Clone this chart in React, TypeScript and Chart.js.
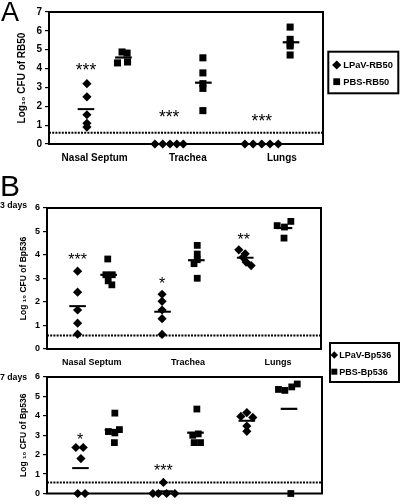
import React, { useEffect, useRef } from 'react';
import { Chart, registerables } from 'chart.js';

Chart.register(...registerables);

const FONT = "'Liberation Sans', Arial, Helvetica, sans-serif";

// x axis: six slots (LPaV / PBS for each organ), 0..6
const X_MIN = 0;
const X_MAX = 6;
const CATEGORIES = ['Nasal Septum', 'Trachea', 'Lungs'];

// ---------- Panel A : RB50 ----------
const A_LEGEND = ['LPaV-RB50', 'PBS-RB50'];
const A_Y_TITLE = 'Log\u2081\u2080 CFU of RB50';
const A_Y_MAX = 7;
const A_LOD = 0.6;
const A_CAT_X = [1.0, 3.04, 5.1];
const A_LPAV_Y = [[3.2, 2.5, 1.55, 1.1, 0.9], [0, 0, 0, 0, 0], [0, 0, 0, 0, 0]];
const A_LPAV_X = [[0.83, 0.83, 0.83, 0.83, 0.83], [2.32, 2.49, 2.65, 2.8, 2.94], [4.29, 4.47, 4.66, 4.84, 5.02]];
const A_PBS_Y = [[4.88, 4.82, 4.3, 4.35], [4.57, 3.77, 3.2, 2.95, 1.77], [6.2, 5.55, 5.3, 5.2, 4.72]];
const A_PBS_X = [[1.6, 1.71, 1.5, 1.72], [3.37, 3.37, 3.37, 3.37, 3.37], [5.28, 5.28, 5.28, 5.28, 5.28]];
const A_LPAV_MEAN_X = [0.81, 2.63, 4.66];
const A_PBS_MEAN_X = [1.63, 3.38, 5.3];
const A_STAR_TEXT = ['***', '***', '***'];
const A_STAR_X = [0.81, 2.63, 4.66];
const A_STAR_Y = [4.14, 1.65, 1.44];

// ---------- Panel B : Bp536 ----------
const B_LEGEND = ['LPaV-Bp536', 'PBS-Bp536'];
const B_Y_TITLE = 'Log \u2081\u2080 CFU of Bp536';
const B_Y_MAX = 6;
const B_LOD = 0.57;

// 3 days
const B3_CAT_X = [0.98, 3.09, 5.06];
const B3_LPAV_Y = [[3.31, 2.42, 1.66, 1.1, 0.63], [2.33, 2.03, 1.66, 1.29, 0.62], [4.22, 4.05, 3.9, 3.7, 3.55]];
const B3_LPAV_X = [[0.67, 0.67, 0.67, 0.67, 0.67], [2.52, 2.52, 2.52, 2.52, 2.52], [4.2, 4.34, 4.29, 4.36, 4.47]];
const B3_PBS_Y = [[3.83, 3.16, 3.16, 2.9, 2.73], [4.41, 4.04, 3.8, 3.63, 3.01], [5.25, 5.19, 5.43, 4.72]];
const B3_PBS_X = [[1.33, 1.29, 1.43, 1.34, 1.42], [3.29, 3.29, 3.29, 3.22, 3.29], [5.04, 5.2, 5.34, 5.19]];
const B3_LPAV_MEAN_X = [0.67, 2.53, 4.34];
const B3_PBS_MEAN_X = [1.35, 3.27, 5.19];
const B3_STAR_TEXT = ['***', '*', '**'];
const B3_STAR_X = [0.67, 2.52, 4.31];
const B3_STAR_Y = [3.97, 2.94, 4.83];

// 7 days
const B7_LPAV_Y = [[2.37, 2.37, 1.8, 0, 0], [0, 0, 0, 0, 0.57], [4.17, 3.97, 3.92, 3.47, 3.2]];
const B7_LPAV_X = [[0.63, 0.79, 0.74, 0.67, 0.83], [2.31, 2.43, 2.61, 2.79, 2.54], [4.36, 4.23, 4.49, 4.36, 4.36]];
const B7_PBS_Y = [[4.14, 3.19, 3.12, 3.29, 2.62], [4.35, 3.0, 3.07, 2.62, 2.62], [5.36, 5.31, 5.49, 5.64, 0]];
const B7_PBS_X = [[1.48, 1.34, 1.48, 1.58, 1.47], [3.27, 3.18, 3.3, 3.21, 3.35], [5.05, 5.19, 5.34, 5.46, 5.32]];
const B7_LPAV_MEAN_X = [0.73, 2.57, 4.36];
const B7_PBS_MEAN_X = [1.44, 3.24, 5.28];
const B7_STAR_TEXT = ['*', '***'];
const B7_STAR_X = [0.72, 2.54];
const B7_STAR_Y = [2.96, 1.36];

type LegendBox = { x: number; y: number; w: number; h: number; markerX: number; textX: number; rowY: number[]; diamond: number; square: number; font: number };

type PanelCfg = {
  top: number;
  height: number;
  area: { left: number; top: number; right: number; bottom: number };
  yMax: number;
  lod: number;
  legend: string[];
  yTitle: string;
  lpavY: number[][];
  lpavX: number[][];
  pbsY: number[][];
  pbsX: number[][];
  lpavMeanX: number[];
  pbsMeanX: number[];
  starText: string[];
  starX: number[];
  starY: number[];
  catX: number[] | null;
  tickFont: number;
  catFont: number;
  titleFont: number;
  starFont: number;
  titlePad: number;
  catPad: number;
  legendBox: LegendBox | null;
  diamond: number;
  square: number;
};

const mean = (a: number[]) => a.reduce((s, v) => s + v, 0) / a.length;
const toPoints = (xs: number[][], ys: number[][]) =>
  ys.flatMap((g, i) => g.map((y, j) => ({ x: xs[i][j], y })));
const toMeans = (mx: number[], ys: number[][]) => ys.map((g, i) => ({ x: mx[i], y: mean(g) }));

function drawDiamond(ctx: CanvasRenderingContext2D, x: number, y: number, r: number) {
  ctx.beginPath();
  ctx.moveTo(x, y - r);
  ctx.lineTo(x + r, y);
  ctx.lineTo(x, y + r);
  ctx.lineTo(x - r, y);
  ctx.closePath();
  ctx.fill();
}

function Panel({ cfg }: { cfg: PanelCfg }) {
  const ref = useRef<HTMLCanvasElement>(null);
  useEffect(() => {
    const c = cfg;
    const W = 400;
    const decor = {
      id: 'decor',
      beforeDatasetsDraw(chart: any) {
        const { ctx, chartArea } = chart;
        ctx.save();
        ctx.strokeStyle = '#000';
        ctx.lineWidth = 2;
        ctx.strokeRect(chartArea.left, chartArea.top, chartArea.right - chartArea.left, chartArea.bottom - chartArea.top);
        ctx.restore();
      },
      afterDatasetsDraw(chart: any) {
        const { ctx } = chart;
        const xs = chart.scales.x;
        const ys = chart.scales.y;
        ctx.save();
        ctx.fillStyle = '#000';
        ctx.font = `${c.starFont}px ${FONT}`;
        ctx.textAlign = 'center';
        ctx.textBaseline = 'alphabetic';
        c.starText.forEach((t, i) => {
          const px = xs.getPixelForValue(c.starX[i]);
          const py = ys.getPixelForValue(c.starY[i]) + 0.58 * c.starFont;
          ctx.fillText(t, px, py);
        });
        const lb = c.legendBox;
        if (lb) {
          ctx.strokeStyle = '#000';
          ctx.lineWidth = 2;
          ctx.strokeRect(lb.x, lb.y, lb.w, lb.h);
          drawDiamond(ctx, lb.markerX, lb.rowY[0], lb.diamond);
          ctx.fillRect(lb.markerX - lb.square, lb.rowY[1] - lb.square, lb.square * 2, lb.square * 2);
          ctx.font = `bold ${lb.font}px ${FONT}`;
          ctx.textAlign = 'left';
          ctx.textBaseline = 'middle';
          const labels = chart.data.datasets.slice(0, 2).map((d: any) => d.label);
          labels.forEach((t: string, i: number) => ctx.fillText(t, lb.textX, lb.rowY[i] + 0.5));
        }
        ctx.restore();
      },
    };

    const chart = new Chart(ref.current as HTMLCanvasElement, {
      type: 'scatter',
      data: {
        datasets: [
          {
            label: c.legend[0],
            data: toPoints(c.lpavX, c.lpavY),
            pointStyle: 'rectRot',
            pointRadius: c.diamond,
            backgroundColor: '#000',
            borderColor: '#000',
            pointBorderWidth: 0,
            clip: false,
          } as any,
          {
            label: c.legend[1],
            data: toPoints(c.pbsX, c.pbsY),
            pointStyle: 'rect',
            pointRadius: c.square,
            backgroundColor: '#000',
            borderColor: '#000',
            pointBorderWidth: 0,
            clip: false,
          } as any,
          {
            label: c.legend[0] + ' mean',
            data: toMeans(c.lpavMeanX, c.lpavY),
            pointStyle: 'line',
            pointRadius: 8.3,
            borderColor: '#000',
            backgroundColor: '#000',
            pointBorderWidth: 2,
            clip: false,
          } as any,
          {
            label: c.legend[1] + ' mean',
            data: toMeans(c.pbsMeanX, c.pbsY),
            pointStyle: 'line',
            pointRadius: 8.3,
            borderColor: '#000',
            backgroundColor: '#000',
            pointBorderWidth: 2.2,
            clip: false,
          } as any,
          {
            type: 'line',
            label: 'Limit of detection',
            data: [{ x: X_MIN, y: c.lod }, { x: X_MAX, y: c.lod }],
            borderColor: '#000',
            borderWidth: 2,
            borderDash: [2, 1.2],
            pointRadius: 0,
            showLine: true,
            fill: false,
          } as any,
        ],
      },
      options: {
        responsive: false,
        animation: false,
        events: [],
        layout: { padding: { left: 0, top: c.area.top, right: W - c.area.right, bottom: 0 } },
        plugins: { legend: { display: false }, tooltip: { enabled: false } },
        scales: {
          x: {
            type: 'linear',
            min: X_MIN,
            max: X_MAX,
            afterFit: (s: any) => { s.height = c.height - c.area.bottom; },
            afterBuildTicks: (s: any) => { s.ticks = (c.catX || []).map((v) => ({ value: v })); },
            ticks: {
              display: !!c.catX,
              autoSkip: false,
              maxRotation: 0,
              minRotation: 0,
              padding: c.catPad,
              color: '#000',
              font: { family: FONT, size: c.catFont, weight: 'bold' },
              callback: (_v: any, i: number) => CATEGORIES[i],
            },
            grid: { display: false, drawTicks: false },
            border: { display: false },
          },
          y: {
            type: 'linear',
            min: 0,
            max: c.yMax,
            afterFit: (s: any) => { s.width = c.area.left; },
            ticks: {
              stepSize: 1,
              color: '#000',
              padding: 3,
              font: { family: FONT, size: c.tickFont, weight: 'bold' },
            },
            grid: { display: true, drawOnChartArea: false, drawTicks: true, tickLength: 4, color: '#000', lineWidth: 1.2 },
            border: { display: false },
            title: {
              display: true,
              text: c.yTitle,
              color: '#000',
              font: { family: FONT, size: c.titleFont, weight: 'bold' },
              padding: { top: c.titlePad, bottom: 0 },
            },
          },
        },
      } as any,
      plugins: [decor],
    });
    return () => chart.destroy();
  }, []);
  return (
    <canvas
      ref={ref}
      width={400}
      height={cfg.height}
      style={{ position: 'absolute', left: 0, top: cfg.top, width: 400, height: cfg.height, display: 'block' }}
    />
  );
}

const PANEL_A: PanelCfg = {
  top: 0,
  height: 170,
  area: { left: 49, top: 12, right: 323, bottom: 144 },
  yMax: A_Y_MAX,
  lod: A_LOD,
  legend: A_LEGEND,
  yTitle: A_Y_TITLE,
  lpavY: A_LPAV_Y,
  lpavX: A_LPAV_X,
  pbsY: A_PBS_Y,
  pbsX: A_PBS_X,
  lpavMeanX: A_LPAV_MEAN_X,
  pbsMeanX: A_PBS_MEAN_X,
  starText: A_STAR_TEXT,
  starX: A_STAR_X,
  starY: A_STAR_Y,
  catX: A_CAT_X,
  tickFont: 10,
  catFont: 10,
  titleFont: 10,
  starFont: 17.5,
  titlePad: 16,
  catPad: 8,
  legendBox: { x: 328.3, y: 51.7, w: 70, h: 41.6, markerX: 336.7, textX: 343.3, rowY: [65, 81.7], diamond: 4.6, square: 3.4, font: 9.3 },
  diamond: 4.6,
  square: 5,
};

const PANEL_B3: PanelCfg = {
  top: 170,
  height: 220,
  area: { left: 47, top: 38, right: 321, bottom: 179 },
  yMax: B_Y_MAX,
  lod: B_LOD,
  legend: B_LEGEND,
  yTitle: B_Y_TITLE,
  lpavY: B3_LPAV_Y,
  lpavX: B3_LPAV_X,
  pbsY: B3_PBS_Y,
  pbsX: B3_PBS_X,
  lpavMeanX: B3_LPAV_MEAN_X,
  pbsMeanX: B3_PBS_MEAN_X,
  starText: B3_STAR_TEXT,
  starX: B3_STAR_X,
  starY: B3_STAR_Y,
  catX: B3_CAT_X,
  tickFont: 9,
  catFont: 9,
  titleFont: 8.5,
  starFont: 16,
  titlePad: 19,
  catPad: 8.6,
  legendBox: { x: 330, y: 173, w: 69, h: 39, markerX: 334.3, textX: 339.3, rowY: [185, 201.7], diamond: 3.7, square: 3, font: 9 },
  diamond: 4.6,
  square: 4.8,
};

const PANEL_B7: PanelCfg = {
  top: 365,
  height: 139,
  area: { left: 47, top: 12, right: 322, bottom: 134 },
  yMax: B_Y_MAX,
  lod: B_LOD,
  legend: B_LEGEND,
  yTitle: B_Y_TITLE,
  lpavY: B7_LPAV_Y,
  lpavX: B7_LPAV_X,
  pbsY: B7_PBS_Y,
  pbsX: B7_PBS_X,
  lpavMeanX: B7_LPAV_MEAN_X,
  pbsMeanX: B7_PBS_MEAN_X,
  starText: B7_STAR_TEXT,
  starX: B7_STAR_X,
  starY: B7_STAR_Y,
  catX: null,
  tickFont: 9,
  catFont: 9,
  titleFont: 8.5,
  starFont: 16,
  titlePad: 19,
  catPad: 8,
  legendBox: null,
  diamond: 4.6,
  square: 4.8,
};

export default function App() {
  const label = (text: string, left: number, top: number, size: number, bold: boolean, lh: number) => (
    <div
      style={{
        position: 'absolute',
        left,
        top,
        fontSize: size,
        lineHeight: `${lh}px`,
        fontWeight: bold ? 'bold' : 'normal',
        color: '#000',
        whiteSpace: 'nowrap',
      }}
    >
      {text}
    </div>
  );
  return (
    <div
      style={{
        position: 'fixed',
        left: 0,
        top: 0,
        width: 400,
        height: 504,
        background: '#fff',
        fontFamily: FONT,
        overflow: 'hidden',
      }}
    >
      <Panel cfg={PANEL_A} />
      <Panel cfg={PANEL_B3} />
      <Panel cfg={PANEL_B7} />
      {label('A', 1, -1, 27, false, 27)}
      {label('B', 0, 171, 30, false, 30)}
      {label('3 days', 0, 199.6, 8.7, true, 10)}
      {label('7 days', 0, 372.1, 8.7, true, 10)}
    </div>
  );
}
